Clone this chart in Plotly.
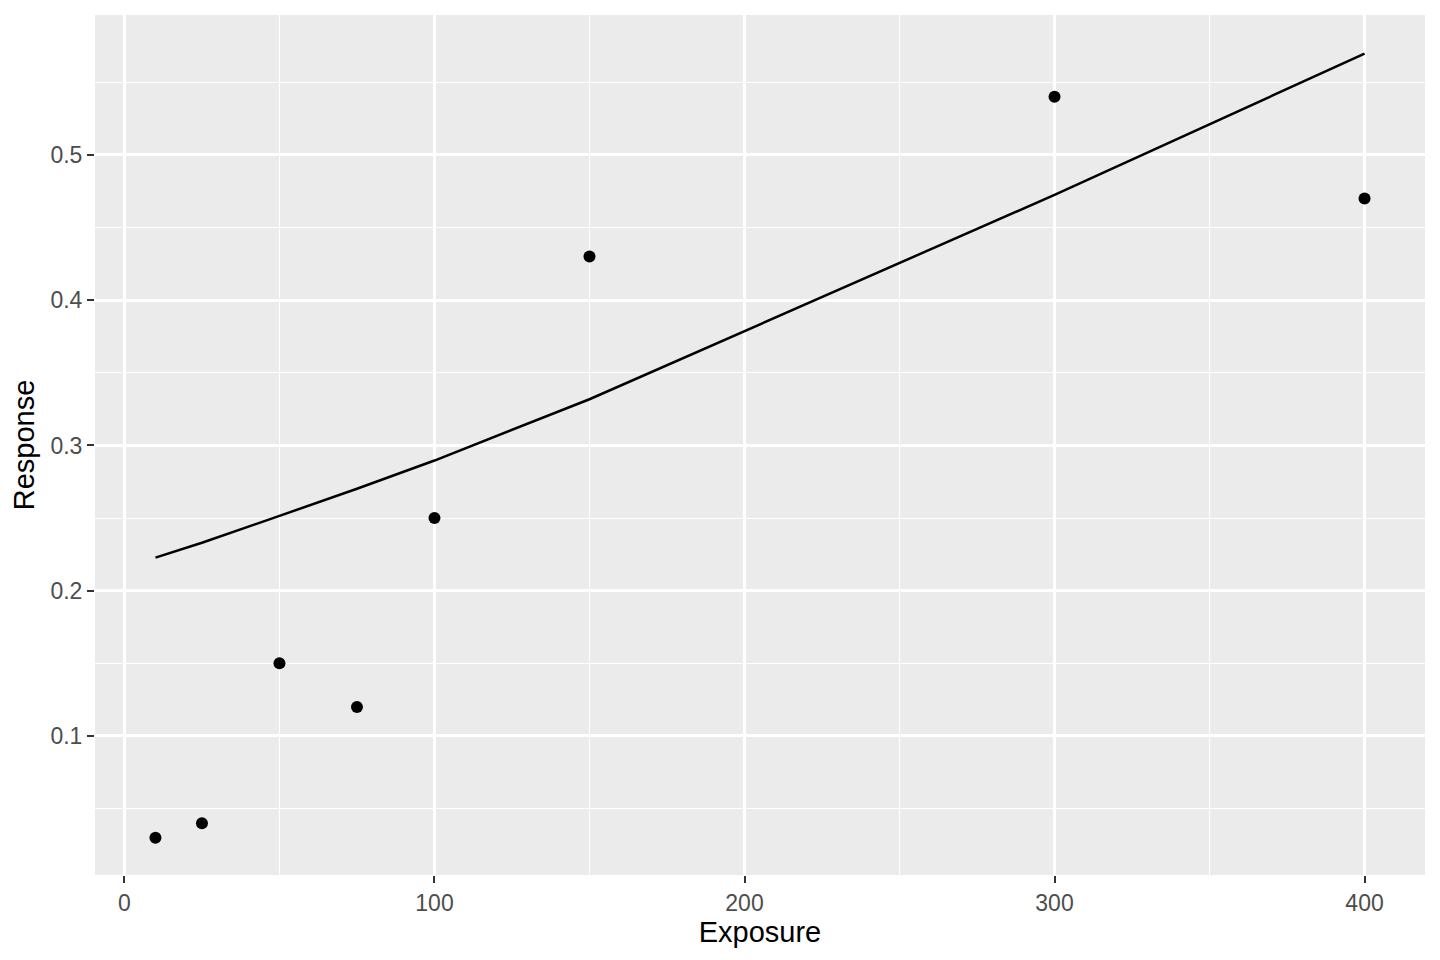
import plotly.graph_objects as go

exposure = [10, 25, 50, 75, 100, 150, 300, 400]
response = [0.03, 0.04, 0.15, 0.12, 0.25, 0.43, 0.54, 0.47]
fitted = [0.2228, 0.2330, 0.2515, 0.2702, 0.2896, 0.3318, 0.4725, 0.5697]

fig = go.Figure()
fig.add_trace(go.Scatter(x=exposure, y=fitted, mode="lines",
                         line=dict(color="black", width=2.5), hoverinfo="skip"))
fig.add_trace(go.Scatter(x=exposure, y=response, mode="markers",
                         marker=dict(color="black", size=12)))

tick_font = dict(family="Liberation Sans, Arial, sans-serif", size=23, color="#4D4D4D")
title_font = dict(family="Liberation Sans, Arial, sans-serif", size=29, color="black")

fig.update_layout(
    width=1440, height=960,
    margin=dict(l=87, r=23, t=7, b=93),
    paper_bgcolor="white", plot_bgcolor="#EBEBEB",
    showlegend=False,
    xaxis=dict(range=[-9.5, 419.5], tickvals=[0, 100, 200, 300, 400],
               showgrid=True, gridcolor="white", gridwidth=2.6,
               minor=dict(tickvals=[50, 150, 250, 350], showgrid=True,
                          gridcolor="white", gridwidth=1.3, ticks=""),
               zeroline=False, showline=False,
               ticks="outside", ticklen=7, tickwidth=2.4, tickcolor="#333333",
               tickfont=tick_font,
               title=dict(text="Exposure", font=title_font, standoff=3)),
    yaxis=dict(range=[0.0043, 0.5963], tickvals=[0.1, 0.2, 0.3, 0.4, 0.5],
               ticktext=["0.1", "0.2", "0.3", "0.4", "0.5"],
               showgrid=True, gridcolor="white", gridwidth=2.6,
               minor=dict(tickvals=[0.05, 0.15, 0.25, 0.35, 0.45, 0.55], showgrid=True,
                          gridcolor="white", gridwidth=1.3, ticks=""),
               zeroline=False, showline=False,
               ticks="outside", ticklen=7, tickwidth=2.4, tickcolor="#333333",
               tickfont=tick_font,
               title=dict(text="Response", font=title_font, standoff=8)),
)

fig.write_html("out.html")
